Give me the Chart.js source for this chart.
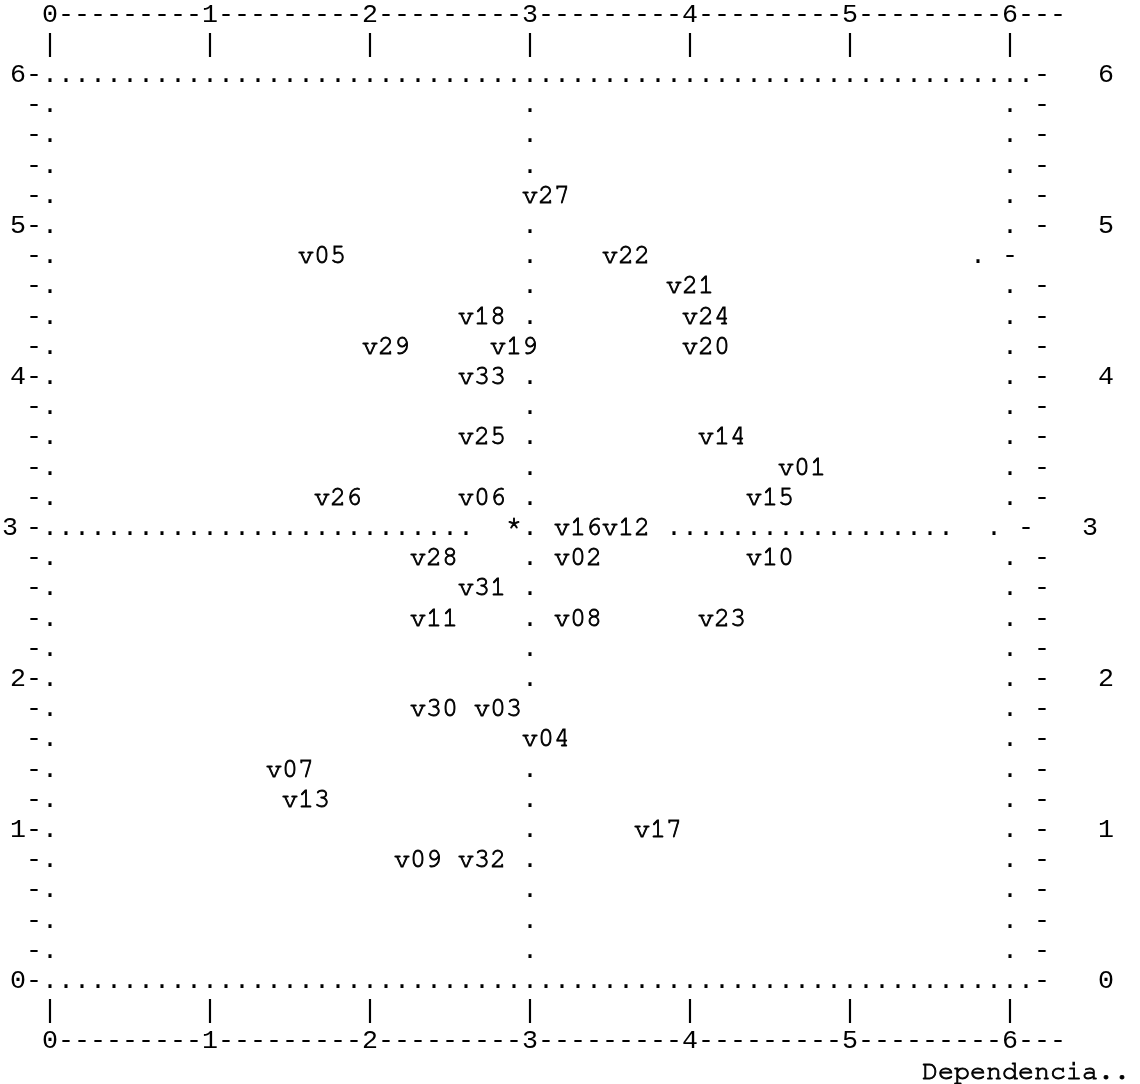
<!DOCTYPE html>
<html>
<head>
<meta charset="utf-8">
<title>Influencia / Dependencia</title>
<script src="https://cdn.jsdelivr.net/npm/chart.js@4.4.1/dist/chart.umd.min.js"></script>
<style>
  html, body { margin: 0; padding: 0; background: #fff; }
  #plot { display: block; }
</style>
</head>
<body>
<canvas id="plot" width="1140" height="1084"></canvas>
<script>
// variables: x = dependencia, y = influencia
const varNames = ['v01', 'v02', 'v03', 'v04', 'v05', 'v06', 'v07', 'v08', 'v09', 'v10', 'v11',
  'v12', 'v13', 'v14', 'v15', 'v16', 'v17', 'v18', 'v19', 'v20', 'v21', 'v22',
  'v23', 'v24', 'v25', 'v26', 'v27', 'v28', 'v29', 'v30', 'v31', 'v32', 'v33'];
const dependencia = [4.7, 3.3, 2.8, 3.1, 1.7, 2.7, 1.5, 3.3, 2.3, 4.5, 2.4,
  3.6, 1.6, 4.2, 4.5, 3.3, 3.8, 2.7, 2.9, 4.1, 4.0, 3.6,
  4.2, 4.1, 2.7, 1.8, 3.1, 2.4, 2.1, 2.4, 2.7, 2.7, 2.7];
const influencia = [3.4, 2.8, 1.8, 1.6, 4.8, 3.2, 1.4, 2.4, 0.8, 2.8, 2.4,
  3.0, 1.2, 3.6, 3.2, 3.0, 1.0, 4.4, 4.2, 4.2, 4.6, 4.8,
  2.4, 4.4, 3.6, 3.2, 5.2, 2.8, 4.2, 1.8, 2.6, 0.8, 4.0];

// centre mark (*)
const centroX = [2.9];
const centroY = [3.0];

const xTicks = ['0', '1', '2', '3', '4', '5', '6'];
const yTicks = ['0', '1', '2', '3', '4', '5', '6'];
const xTitle = 'Dependencia..';

const FRAME_FONT = '26.67px "Liberation Mono", monospace';
const LABEL_FONT = '26.67px FreeMono, "Liberation Mono", monospace';

// text-plot frame: rulers, ticks and dotted guide lines, laid on a character grid
// taken from the scales (10 columns / 5 rows per unit)
const asciiFrame = {
  id: 'asciiFrame',
  afterDatasetsDraw(chart) {
    const ctx = chart.ctx;
    const xs = chart.scales.x, ys = chart.scales.y;
    const x0 = xs.getPixelForValue(0);
    const cw = (xs.getPixelForValue(6) - x0) / 60;
    const y0 = ys.getPixelForValue(6);
    const rh = (ys.getPixelForValue(0) - y0) / 30;
    const base = rh * 0.265;
    const put = (ch, col, row) => ctx.fillText(ch, x0 + col * cw, y0 + row * rh + base);

    const pts = chart.getDatasetMeta(0).data;
    // a label sitting on (or right next to) the centre column hides its dot
    const covered = (col, row) => pts.some(p =>
      Math.abs(p.y - (y0 + row * rh)) < rh / 2 && Math.abs(p.x - (x0 + col * cw)) < cw * 2.5);
    // rows where the right border got pushed left
    const rowShift = { 6: 2 };

    ctx.save();
    ctx.fillStyle = '#000';
    ctx.textAlign = 'center';
    ctx.font = FRAME_FONT;

    [-2, 32].forEach(row => {
      for (let c = 0; c <= 63; c++) {
        const t = (c % 10 === 0 && c / 10 < xTicks.length) ? xTicks[c / 10] : '-';
        put(t, c, row);
      }
    });
    [-1, 31].forEach(row => xTicks.forEach((t, i) => put('|', i * 10, row)));

    for (let r = 0; r <= 30; r++) {
      const isTick = r % 5 === 0;
      const tick = isTick ? yTicks[yTicks.length - 1 - r / 5] : '';
      const shift = rowShift[r] || 0;
      put('-', -1, r);
      put('.', 0, r);
      if (r === 0 || r === 30) {
        put(tick, -2, r);
        for (let c = 1; c <= 61; c++) put('.', c, r);
        put('-', 62, r);
        put(tick, 66, r);
      } else if (r === 15) {
        put(tick, -2.5, r);
        for (let c = 1; c <= 26; c++) put('.', c, r);
        put('.', 30, r);
        for (let c = 39; c <= 56; c++) put('.', c, r);
        put('.', 59, r);
        put('-', 61, r);
        put(tick, 65, r);
      } else {
        if (isTick) put(tick, -2, r);
        if (!covered(30, r)) put('.', 30, r);
        put('.', 60 - shift, r);
        put('-', 62 - shift, r);
        if (isTick) put(tick, 66 - shift, r);
      }
    }

    // point labels (FreeMono is thin, give it a light outline)
    ctx.font = LABEL_FONT;
    ctx.strokeStyle = '#000';
    ctx.lineWidth = 0.9;
    const say = (t, x, y) => { ctx.fillText(t, x, y); ctx.strokeText(t, x, y); };
    pts.forEach((p, i) => say(varNames[i], p.x, p.y + base));
    chart.getDatasetMeta(1).data.forEach(p => say('*', p.x, p.y + base));

    ctx.textAlign = 'left';
    say(xTitle, x0 + 54.5 * cw, y0 + 33 * rh + base);
    ctx.restore();
  }
};

new Chart(document.getElementById('plot'), {
  type: 'scatter',
  data: {
    datasets: [
      {
        label: 'variables',
        data: varNames.map((n, i) => ({ x: dependencia[i], y: influencia[i] })),
        pointRadius: 0
      },
      {
        label: 'centro',
        data: centroX.map((x, i) => ({ x: x, y: centroY[i] })),
        pointRadius: 0
      }
    ]
  },
  options: {
    responsive: false,
    animation: false,
    devicePixelRatio: 1,
    layout: { padding: { left: 50, right: 130, top: 74, bottom: 104 } },
    plugins: {
      legend: { display: false },
      tooltip: { enabled: false }
    },
    scales: {
      x: { type: 'linear', min: 0, max: 6, display: false },
      y: { type: 'linear', min: 0, max: 6, display: false }
    }
  },
  plugins: [asciiFrame]
});
</script>
</body>
</html>
